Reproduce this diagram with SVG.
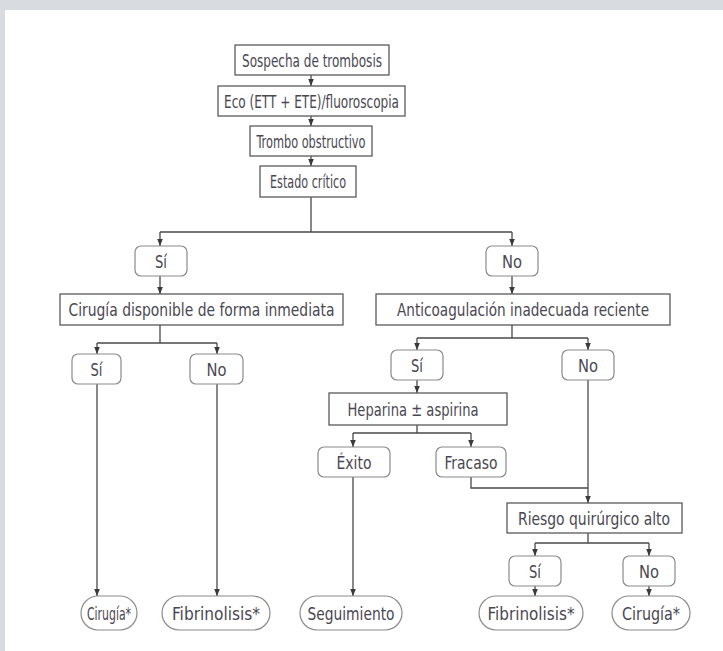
<svg xmlns="http://www.w3.org/2000/svg" width="723" height="651" viewBox="0 0 723 651">
<style>
.bx{fill:#fff;stroke:#5a5a5a;stroke-width:1.3}
.rb{fill:#fff;stroke:#8a8a8a;stroke-width:1.2}
.ov{fill:#fff;stroke:#8a8a8a;stroke-width:1.2}
.t{font-family:"DejaVu Sans Condensed","Liberation Sans Narrow","Liberation Sans",sans-serif;font-size:18.5px;fill:#4a4752;text-anchor:middle;dominant-baseline:central}
.c{fill:none;stroke:#4a4a4a;stroke-width:1.3}
.a{fill:none;stroke:#4a4a4a;stroke-width:1.3;marker-end:url(#ah)}
</style>
<defs>
<marker id="ah" viewBox="0 0 10 10" refX="10" refY="5" markerWidth="7" markerHeight="7" markerUnits="userSpaceOnUse" orient="auto"><path d="M0,1 L10,5 L0,9 z" fill="#3a3a3a"/></marker>
</defs>
<rect x="0" y="0" width="723" height="651" fill="#d8dce1"/>
<rect x="5" y="10" width="718" height="641" fill="#fff"/>
<g id="connectors">
<path class="a" d="M311,75 V86"/>
<path class="a" d="M311,116 V126"/>
<path class="a" d="M311,156 V166"/>
<path class="c" d="M311,197 V232 M160,232 H512"/>
<path class="a" d="M160,232 V246"/>
<path class="a" d="M512,232 V246"/>
<path class="a" d="M160,276 V294"/>
<path class="a" d="M512,276 V294"/>
<path class="c" d="M160,325 V343 M97,343 H217"/>
<path class="a" d="M97,343 V354"/>
<path class="a" d="M217,343 V354"/>
<path class="a" d="M97,384 V596"/>
<path class="a" d="M217,384 V596"/>
<path class="c" d="M512,325 V338 M417,338 H588"/>
<path class="a" d="M417,338 V350"/>
<path class="a" d="M588,338 V350"/>
<path class="a" d="M417,380 V393"/>
<path class="c" d="M417,425 V433 M353,433 H471"/>
<path class="a" d="M353,433 V447"/>
<path class="a" d="M471,433 V447"/>
<path class="a" d="M353,477 V596"/>
<path class="c" d="M471,477 V488 H588"/>
<path class="a" d="M588,380 V503"/>
<path class="c" d="M588,533 V543 M535,543 H649"/>
<path class="a" d="M535,543 V556"/>
<path class="a" d="M649,543 V556"/>
<path class="a" d="M535,586 V596"/>
<path class="a" d="M649,586 V596"/>
</g>
<g id="n1"><rect class="bx" x="235" y="45" width="154" height="30"/><text class="t" x="312" y="60" textLength="140" lengthAdjust="spacingAndGlyphs">Sospecha de trombosis</text></g>
<g id="n2"><rect class="bx" x="218" y="86" width="187" height="30"/><text class="t" x="311.5" y="101" textLength="175" lengthAdjust="spacingAndGlyphs">Eco (ETT + ETE)/fluoroscopia</text></g>
<g id="n3"><rect class="bx" x="250" y="126" width="122" height="30"/><text class="t" x="311" y="141" textLength="109" lengthAdjust="spacingAndGlyphs">Trombo obstructivo</text></g>
<g id="n4"><rect class="bx" x="260" y="166" width="96" height="31"/><text class="t" x="308" y="181.5" textLength="76" lengthAdjust="spacingAndGlyphs">Estado crítico</text></g>
<g id="n5"><rect class="rb" x="135" y="246" width="52" height="30" rx="6"/><text class="t" x="161" y="261" textLength="12" lengthAdjust="spacingAndGlyphs">Sí</text></g>
<g id="n6"><rect class="rb" x="486" y="246" width="52" height="30" rx="6"/><text class="t" x="512" y="261" textLength="20" lengthAdjust="spacingAndGlyphs">No</text></g>
<g id="n7"><rect class="bx" x="60" y="294" width="283" height="31"/><text class="t" x="201.5" y="309.5" textLength="266" lengthAdjust="spacingAndGlyphs">Cirugía disponible de forma inmediata</text></g>
<g id="n8"><rect class="bx" x="376" y="294" width="294" height="31"/><text class="t" x="523" y="309.5" textLength="252" lengthAdjust="spacingAndGlyphs">Anticoagulación inadecuada reciente</text></g>
<g id="n9"><rect class="rb" x="72" y="354" width="49" height="30" rx="6"/><text class="t" x="96.5" y="369" textLength="12" lengthAdjust="spacingAndGlyphs">Sí</text></g>
<g id="n10"><rect class="rb" x="190" y="354" width="53" height="30" rx="6"/><text class="t" x="216.5" y="369" textLength="20" lengthAdjust="spacingAndGlyphs">No</text></g>
<g id="n11"><rect class="rb" x="391" y="350" width="52" height="30" rx="6"/><text class="t" x="417" y="365" textLength="12" lengthAdjust="spacingAndGlyphs">Sí</text></g>
<g id="n12"><rect class="rb" x="562" y="350" width="52" height="30" rx="6"/><text class="t" x="588" y="365" textLength="20" lengthAdjust="spacingAndGlyphs">No</text></g>
<g id="n13"><rect class="bx" x="329" y="393" width="178" height="32"/><text class="t" x="413" y="409" textLength="131" lengthAdjust="spacingAndGlyphs">Heparina ± aspirina</text></g>
<g id="n14"><rect class="rb" x="318" y="447" width="72" height="30" rx="6"/><text class="t" x="354" y="462" textLength="35" lengthAdjust="spacingAndGlyphs">Éxito</text></g>
<g id="n15"><rect class="rb" x="436" y="447" width="70" height="30" rx="6"/><text class="t" x="471" y="462" textLength="53" lengthAdjust="spacingAndGlyphs">Fracaso</text></g>
<g id="n16"><rect class="bx" x="507" y="503" width="175" height="30"/><text class="t" x="594" y="518" textLength="152" lengthAdjust="spacingAndGlyphs">Riesgo quirúrgico alto</text></g>
<g id="n17"><rect class="rb" x="509" y="556" width="52" height="30" rx="6"/><text class="t" x="535" y="571" textLength="12" lengthAdjust="spacingAndGlyphs">Sí</text></g>
<g id="n18"><rect class="rb" x="623" y="556" width="52" height="30" rx="6"/><text class="t" x="649" y="571" textLength="20" lengthAdjust="spacingAndGlyphs">No</text></g>
<g id="n19"><rect class="ov" x="81" y="596" width="56" height="34" rx="17"/><text class="t" x="109" y="613" textLength="44" lengthAdjust="spacingAndGlyphs">Cirugía*</text></g>
<g id="n20"><rect class="ov" x="162" y="596" width="108" height="34" rx="17"/><text class="t" x="216" y="613" textLength="88" lengthAdjust="spacingAndGlyphs">Fibrinolisis*</text></g>
<g id="n21"><rect class="ov" x="300" y="596" width="102" height="34" rx="17"/><text class="t" x="351" y="613" textLength="87" lengthAdjust="spacingAndGlyphs">Seguimiento</text></g>
<g id="n22"><rect class="ov" x="479" y="596" width="104" height="34" rx="17"/><text class="t" x="531" y="613" textLength="87" lengthAdjust="spacingAndGlyphs">Fibrinolisis*</text></g>
<g id="n23"><rect class="ov" x="612" y="596" width="78" height="34" rx="17"/><text class="t" x="651" y="613" textLength="58" lengthAdjust="spacingAndGlyphs">Cirugía*</text></g>
</svg>
